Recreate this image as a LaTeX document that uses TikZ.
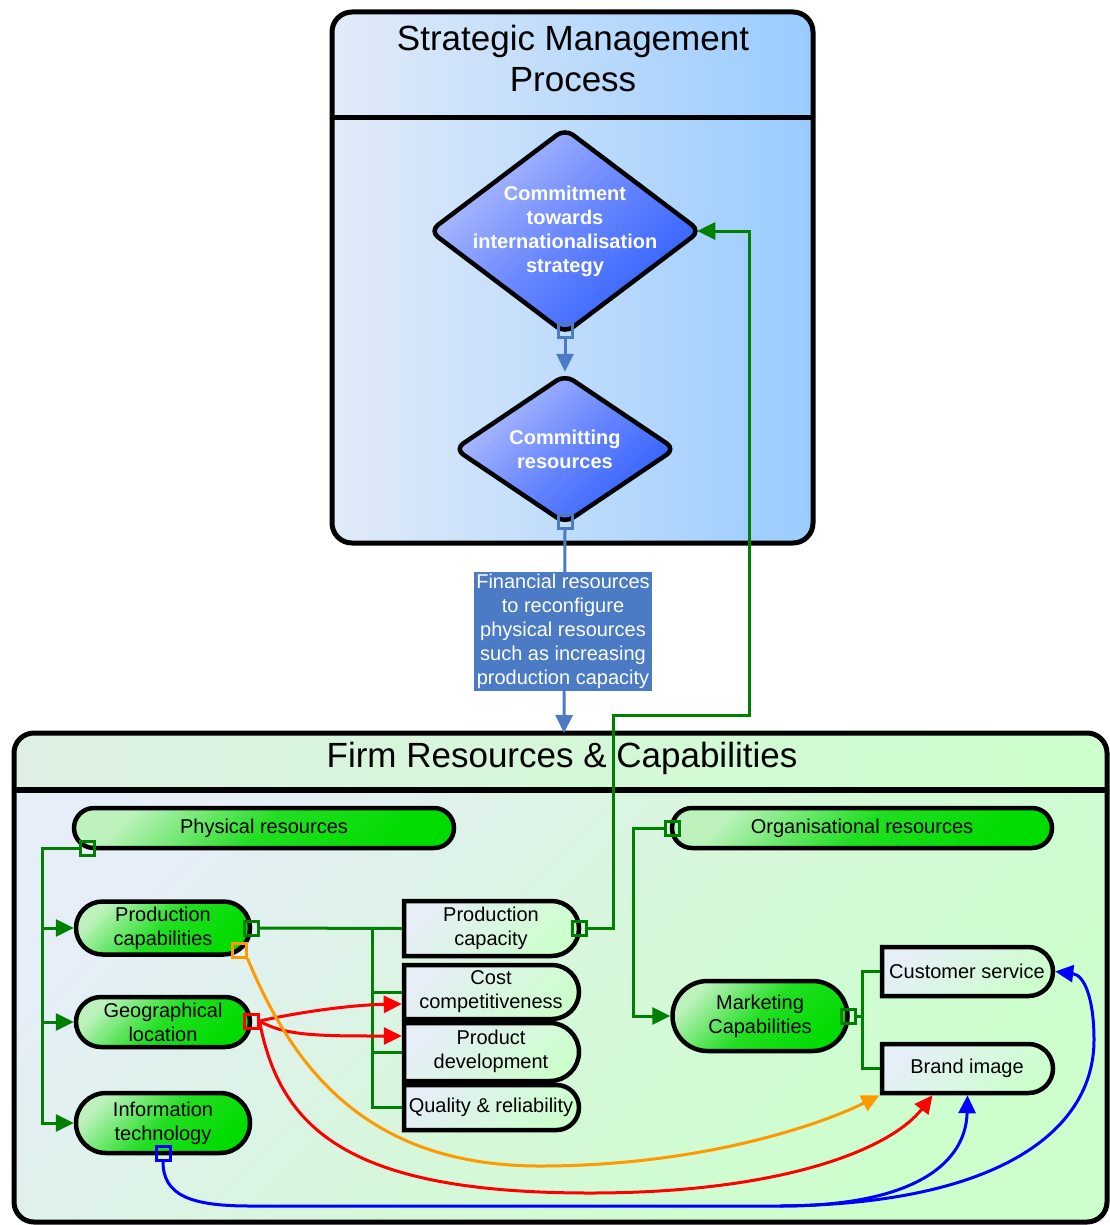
\documentclass[tikz,border=0pt]{standalone}
\usepackage{fontspec}
\setmainfont{Liberation Sans}
\usetikzlibrary{shapes.misc,shapes.geometric,arrows.meta,calc}

\definecolor{smpLight}{HTML}{E2EBF8}
\definecolor{smpBlue}{HTML}{99CCFF}
\definecolor{frcLight}{HTML}{E6EEF8}
\definecolor{frcHead}{HTML}{DEF0E4}
\definecolor{frcMid}{HTML}{D6F7DA}
\definecolor{frcGreen}{HTML}{CCFFCC}
\definecolor{resLight}{HTML}{BDF2BD}
\definecolor{resMid}{HTML}{22DE22}
\definecolor{resDark}{HTML}{00DC00}
\definecolor{decLight}{HTML}{B4C0FF}
\definecolor{decMid}{HTML}{6A88FF}
\definecolor{decDark}{HTML}{2F5FFF}
\definecolor{flowBlue}{HTML}{4A7BC4}
\definecolor{linkGreen}{HTML}{008000}
\definecolor{linkOrange}{HTML}{FF9900}

\tikzset{
  bodytext/.style={font=\fontsize{20}{24}\selectfont, align=center, inner sep=0pt},
  titletext/.style={font=\fontsize{35}{41}\selectfont, align=center, inner sep=0pt},
  dectext/.style={font=\fontsize{20}{24}\selectfont\bfseries, text=white, align=center, inner sep=0pt},
  decision/.style={diamond, draw=black, line width=4.5pt, rounded corners=10pt, inner sep=0pt,
    top color=decLight, bottom color=decDark, middle color=decMid, shading angle=45},
  resbox/.style={rounded rectangle, draw=black, line width=4.5pt, inner sep=0pt,
    top color=resLight, bottom color=resDark, middle color=resMid, shading angle=45},
  capbox/.style={rounded rectangle, rounded rectangle west arc=none, draw=black,
    line width=4.5pt, inner sep=0pt, top color=frcLight, bottom color=frcGreen, shading angle=45},
  portsq/.style={rectangle, draw=#1, line width=3pt, minimum size=14pt, inner sep=0pt},
  flowarrow/.style={-{Triangle[length=18pt,width=17pt]}},
  gline/.style={draw=linkGreen, line width=3pt},
  rline/.style={draw=red, line width=3pt},
  oline/.style={draw=linkOrange, line width=3pt},
  bline/.style={draw=blue, line width=3pt},
  sline/.style={draw=flowBlue, line width=3pt},
  flowlabel/.style={fill=flowBlue, text=white, font=\fontsize{20}{24}\selectfont, align=center,
    inner sep=0pt, minimum width=178pt, minimum height=119pt},
}

\begin{document}
\begin{tikzpicture}[x=1pt,y=-1pt]
\useasboundingbox (0,0) rectangle (1109,1225);

% ---------- Strategic Management Process container ----------
\shade[rounded corners=20pt, left color=smpLight, right color=smpBlue] (332,12) rectangle (813,543);
\draw[line width=5pt] (332,118) -- (813,118);
\draw[line width=5pt, rounded corners=20pt] (332,12) rectangle (813,543);
\node[titletext] (smp-title) at (573,58) {Strategic Management\\Process};

% ---------- Firm Resources & Capabilities container ----------
\begin{scope}
  \clip[rounded corners=20pt] (14,733) rectangle (1107,1222);
  \shade[left color=frcHead, right color=frcGreen] (14,733) rectangle (1107,790);
  \shade[top color=frcLight, bottom color=frcGreen, middle color=frcMid, shading angle=45] (14,790) rectangle (1107,1222);
\end{scope}
\draw[line width=5.5pt] (14,790) -- (1107,790);
\draw[line width=5pt, rounded corners=20pt] (14,733) rectangle (1107,1222);
\node[titletext] (frc-title) at (562,758) {Firm Resources \& Capabilities};

% ---------- decisions ----------
\node[decision, minimum width=272pt, minimum height=206pt] (d1) at (565,231) {};
\node[dectext] (d1-t) at (d1) {Commitment\\towards\\internationalisation\\strategy};
\node[decision, minimum width=222pt, minimum height=150pt] (d2) at (565,449) {};
\node[dectext] (d2-t) at (d2) {Committing\\resources};

% ---------- resources ----------
\node[resbox, minimum width=380pt, minimum height=40pt] (phys) at (264,828) {};
\node[bodytext] (phys-t) at (phys) {Physical resources};
\node[resbox, minimum width=380pt, minimum height=40pt] (org) at (862,828) {};
\node[bodytext] (org-t) at (org) {Organisational resources};
\node[resbox, minimum width=174pt, minimum height=53pt] (prodcap) at (163,928) {};
\node[bodytext] (prodcap-t) at (prodcap) {Production\\capabilities};
\node[resbox, minimum width=174pt, minimum height=50pt] (geo) at (163,1022) {};
\node[bodytext] (geo-t) at (geo) {Geographical\\location};
\node[resbox, minimum width=174pt, minimum height=60pt] (it) at (163,1123) {};
\node[bodytext] (it-t) at (it) {Information\\technology};
\node[resbox, minimum width=175pt, minimum height=70pt] (mkt) at (760,1016) {};
\node[bodytext] (mkt-t) at (mkt) {Marketing\\Capabilities};

% ---------- capabilities ----------
\node[capbox, minimum width=175pt, minimum height=55pt] (pcap) at (491.5,928.5) {};
\node[bodytext] (pcap-t) at (491,928) {Production\\capacity};
\node[capbox, minimum width=175pt, minimum height=54pt] (cost) at (491.5,992) {};
\node[bodytext] (cost-t) at (491,992) {Cost\\competitiveness};
\node[capbox, minimum width=175pt, minimum height=58pt] (pdev) at (491.5,1052) {};
\node[bodytext] (pdev-t) at (491,1051) {Product\\development};
\node[capbox, minimum width=175pt, minimum height=45pt] (qual) at (491.5,1107.5) {};
\node[bodytext] (qual-t) at (491,1107) {Quality \& reliability};
\node[capbox, minimum width=171pt, minimum height=49pt] (cs) at (967.5,971.5) {};
\node[bodytext] (cs-t) at (967,971) {Customer service};
\node[capbox, minimum width=171pt, minimum height=49pt] (bi) at (967.5,1068.5) {};
\node[bodytext] (bi-t) at (967,1068) {Brand image};

% ---------- ports ----------
\node[portsq=flowBlue] (p-d1) at (565,330) {};
\node[portsq=flowBlue] (p-d2) at (565,521) {};
\node[portsq=linkGreen] (p-phys) at (87,848) {};
\node[portsq=linkGreen] (p-prodcap) at (251,928) {};
\node[portsq=linkOrange] (p-orange) at (239,950) {};
\node[portsq=red] (p-geo) at (251,1021) {};
\node[portsq=blue] (p-it) at (163,1153) {};
\node[portsq=linkGreen] (p-pcap) at (579,928) {};
\node[portsq=linkGreen] (p-org) at (672,828) {};
\node[portsq=linkGreen] (p-mkt) at (848,1016) {};

\coordinate (frc-top) at (564,733);
\coordinate (split) at (372,928);
\coordinate (msplit) at (862,1016);
\coordinate (bsplit) at (780,1206);

% ---------- process flow ----------
\draw[sline, flowarrow] (p-d1.south) -- (d2.north);
\draw[sline, flowarrow] (p-d2.south) -- (frc-top);
\node[flowlabel] (fin) at (563,631.5) {Financial resources\\to reconfigure\\physical resources\\such as increasing\\production capacity};

% ---------- green links ----------
\draw[gline, flowarrow] (p-phys.west) -| ($(prodcap.west)+(-31,0)$) -- (prodcap.west);
\draw[gline, flowarrow] (p-phys.west) -| ($(geo.west)+(-31,0)$) -- (geo.west);
\draw[gline, flowarrow] (p-phys.west) -| ($(it.west)+(-31,0)$) -- (it.west);
\draw[gline] (p-prodcap.east) -- (pcap.west);
\draw[gline] (split) |- (cost.west);
\draw[gline] (split) |- (pdev.west);
\draw[gline] (split) |- (qual.west);
\draw[gline, flowarrow, shorten >=-6pt] (p-pcap.east) -| (613,715) -| (749,231) -- (d1.east);
\draw[gline, flowarrow] (p-org.west) -| ($(mkt.west)+(-37,0)$) -- (mkt.west);
\draw[gline] (p-mkt.east) -- (msplit);
\draw[gline] (msplit) |- (cs.west);
\draw[gline] (msplit) |- (bi.west);

% ---------- red links ----------
\draw[rline, flowarrow] (p-geo.east) .. controls (300,1012) and (350,1005) .. ($(cost.west)+(0,12)$);
\draw[rline, flowarrow] (p-geo.east) .. controls (285,1036) and (320,1036) .. ($(pdev.west)+(0,-16)$);
\draw[rline, flowarrow] (p-geo.east) .. controls (280,1130) and (350,1193) .. (590,1193)
  .. controls (780,1193) and (890,1150) .. ($(bi.south)+(-35,0)$);

% ---------- orange link ----------
\draw[oline, flowarrow] (p-orange.south east) .. controls (290,1060) and (360,1166) .. (540,1166)
  .. controls (700,1166) and (820,1125) .. ($(bi.south)+(-88,0)$);

% ---------- blue links ----------
\draw[bline] (p-it.south) .. controls (163,1195) and (190,1206) .. (250,1206) -- (bsplit);
\draw[bline, flowarrow] (bsplit) .. controls (920,1206) and (966,1160) .. (bi.south);
\draw[bline, flowarrow] (bsplit) .. controls (1000,1204) and (1094,1130) .. (1094,1040)
  .. controls (1094,1000) and (1085,975) .. (cs.east);

\end{tikzpicture}
\end{document}
